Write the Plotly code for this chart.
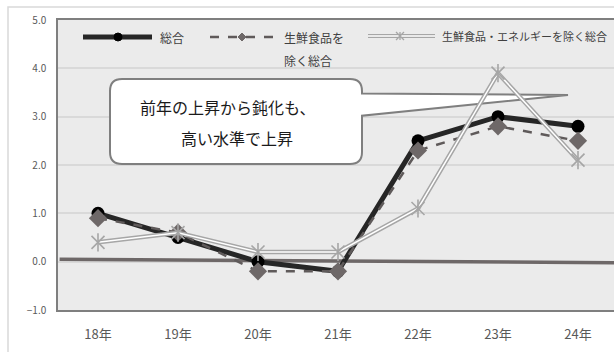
import plotly.graph_objects as go

# 消費者物価指数（前年比、%）
years = ["18年", "19年", "20年", "21年", "22年", "23年", "24年"]
total = [1.0, 0.5, 0.0, -0.2, 2.5, 3.0, 2.8]
core = [0.9, 0.6, -0.2, -0.2, 2.3, 2.8, 2.5]
core_core = [0.4, 0.6, 0.2, 0.2, 1.1, 3.9, 2.1]

series_names = ["総合", "生鮮食品を", "除く総合", "生鮮食品・エネルギーを除く総合"]
y_ticks = [-1, 0, 1, 2, 3, 4, 5]
callout_lines = ["前年の上昇から鈍化も、", "高い水準で上昇"]

FONT = "Noto Sans CJK JP"
W, H = 614, 352
ML, MR, MT, MB = 58, 0, 20, 42
PW, PH = W - ML - MR, H - MT - MB
GREY = "#a6a6a6"


def px(x):
    return (x - ML) / PW


def py(y):
    return (H - MB - y) / PH


fig = go.Figure()

# 総合
fig.add_trace(go.Scatter(
    x=years, y=total, mode="lines+markers",
    line=dict(color="#262626", width=5),
    marker=dict(symbol="circle", size=13, color="#000000"),
))
# 生鮮食品を除く総合
fig.add_trace(go.Scatter(
    x=years, y=core, mode="lines+markers",
    line=dict(color="#5f5a5a", width=2.5, dash="dash"),
    marker=dict(symbol="diamond", size=14, color="#6e6868"),
))
# 生鮮食品・エネルギーを除く総合（二重線）
fig.add_trace(go.Scatter(
    x=years, y=core_core, mode="lines",
    line=dict(color=GREY, width=4.5),
))
fig.add_trace(go.Scatter(
    x=years, y=core_core, mode="lines",
    line=dict(color="#ffffff", width=1.5),
))
for sym in ("x-thin-open", "line-ns-open"):
    fig.add_trace(go.Scatter(
        x=years, y=core_core, mode="markers",
        marker=dict(symbol=sym, size=13, color=GREY, line=dict(color=GREY, width=1.6)),
    ))

shapes = []

# 外枠
shapes.append(dict(type="rect", xref="paper", yref="paper",
                   x0=px(8), x1=px(625), y0=py(7), y1=py(365),
                   line=dict(color="#d9d9d9", width=1.5), fillcolor="rgba(0,0,0,0)",
                   layer="below"))

# ゼロ基準線
shapes.append(dict(type="line", xref="x", yref="y",
                   x0=-0.48, y0=0.05, x1=6.45, y1=-0.02,
                   line=dict(color="#6e6868", width=3.5), layer="between"))

# 吹き出し
bx0, bx1 = (110 - 98) / 80, (362 - 98) / 80
by1, by0 = 3.78, 2.02
rx, ry = 12 / 80, 12 / 48.3
tip_x, tip_y = (568 - 98) / 80, 3.45
t_top, t_bot = 3.48, 3.02
path = (
    f"M {bx0 + rx},{by1} L {bx1 - rx},{by1} Q {bx1},{by1} {bx1},{by1 - ry} "
    f"L {bx1},{t_top} L {tip_x},{tip_y} L {bx1},{t_bot} "
    f"L {bx1},{by0 + ry} Q {bx1},{by0} {bx1 - rx},{by0} "
    f"L {bx0 + rx},{by0} Q {bx0},{by0} {bx0},{by0 + ry} "
    f"L {bx0},{by1 - ry} Q {bx0},{by1} {bx0 + rx},{by1} Z"
)
shapes.append(dict(type="path", xref="x", yref="y", path=path,
                   fillcolor="#ffffff", line=dict(color="#7f7f7f", width=2),
                   layer="between"))

# 凡例
LY = 37
shapes.append(dict(type="line", xref="paper", yref="paper",
                   x0=px(83), x1=px(152), y0=py(LY), y1=py(LY),
                   line=dict(color="#262626", width=5)))
shapes.append(dict(type="circle", xref="paper", yref="paper",
                   xsizemode="pixel", ysizemode="pixel",
                   xanchor=px(118), yanchor=py(LY),
                   x0=-4, x1=4, y0=-4, y1=4,
                   fillcolor="#000000", line=dict(color="#000000", width=1)))
shapes.append(dict(type="line", xref="paper", yref="paper",
                   x0=px(210), x1=px(273), y0=py(LY), y1=py(LY),
                   line=dict(color="#5f5a5a", width=2.5, dash="dash")))
shapes.append(dict(type="path", xref="paper", yref="paper",
                   xsizemode="pixel", ysizemode="pixel",
                   xanchor=px(242), yanchor=py(LY),
                   path="M -4,0 L 0,4 L 4,0 L 0,-4 Z",
                   fillcolor="#6e6868", line=dict(color="#6e6868", width=1)))
shapes.append(dict(type="line", xref="paper", yref="paper",
                   x0=px(368), x1=px(435), y0=py(LY - 1), y1=py(LY - 1),
                   line=dict(color=GREY, width=4)))
shapes.append(dict(type="line", xref="paper", yref="paper",
                   x0=px(368), x1=px(435), y0=py(LY - 1), y1=py(LY - 1),
                   line=dict(color="#ffffff", width=1.3)))
shapes.append(dict(type="path", xref="paper", yref="paper",
                   xsizemode="pixel", ysizemode="pixel",
                   xanchor=px(400), yanchor=py(LY - 1),
                   path="M -4,-4 L 4,4 M -4,4 L 4,-4 M 0,-4 L 0,4",
                   line=dict(color=GREY, width=1.3)))

annotations = []
legend_text = [(158, LY, series_names[0], 12), (282, LY, series_names[1], 12),
               (282, 60, series_names[2], 12), (440, LY - 1, series_names[3], 11)]
for lx, ly, txt, fs in legend_text:
    annotations.append(dict(xref="paper", yref="paper", x=px(lx), y=py(ly),
                            text=txt, showarrow=False, xanchor="left", yanchor="middle",
                            font=dict(family=FONT, size=fs, color="#404040")))

annotations.append(dict(xref="paper", yref="paper", x=px(228), y=py(107),
                        text=callout_lines[0], showarrow=False,
                        xanchor="center", yanchor="middle",
                        font=dict(family=FONT, size=16, color="#1a1a1a")))
annotations.append(dict(xref="paper", yref="paper", x=px(237), y=py(138),
                        text=callout_lines[1], showarrow=False,
                        xanchor="center", yanchor="middle",
                        font=dict(family=FONT, size=16, color="#1a1a1a")))

fig.update_layout(
    width=W, height=H,
    margin=dict(l=ML, r=MR, t=MT, b=MB, pad=0),
    paper_bgcolor="#ffffff",
    plot_bgcolor="#ebebeb",
    showlegend=False,
    font=dict(family=FONT, color="#595959"),
    shapes=shapes,
    annotations=annotations,
)
fig.update_xaxes(
    type="category", range=[-0.5, 6.45],
    showgrid=False, zeroline=False,
    showline=True, linecolor="#7f7f7f", linewidth=1.5, mirror=True,
    ticks="", ticklabelstandoff=12,
    tickfont=dict(family=FONT, size=13, color="#595959"),
)
fig.update_yaxes(
    range=[-1, 5], tickvals=y_ticks, tickformat=".1f",
    showgrid=True, gridcolor="#d9d9d9", gridwidth=1.5, zeroline=False,
    showline=True, linecolor="#7f7f7f", linewidth=1.5, mirror=False,
    ticks="", ticklabelstandoff=8,
    tickfont=dict(family=FONT, size=10, color="#595959"),
)

fig.write_html("out.html")
